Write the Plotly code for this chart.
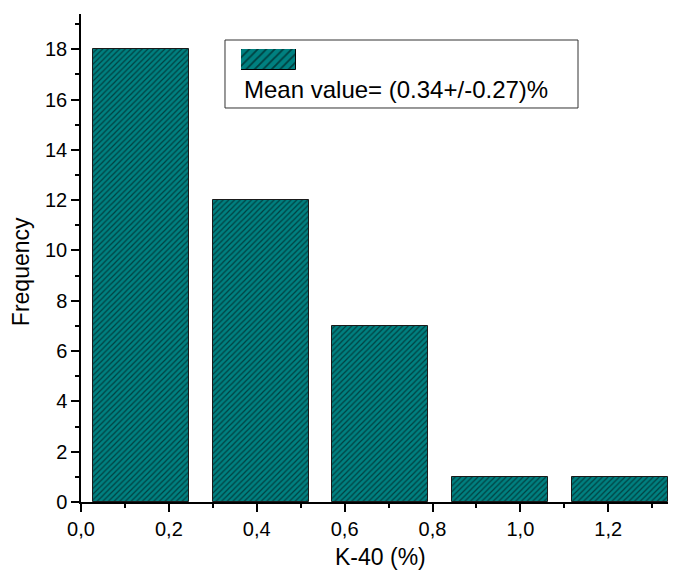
import plotly.graph_objects as go

# Data
bin_centers = [0.136, 0.409, 0.681, 0.954, 1.226]
frequencies = [18, 12, 7, 1, 1]
bar_width = 0.218
x_tick_vals = [0.0, 0.2, 0.4, 0.6, 0.8, 1.0, 1.2]
y_tick_vals = [0, 2, 4, 6, 8, 10, 12, 14, 16, 18]
legend_text = "Mean value= (0.34+/-0.27)%"
x_title = "K-40 (%)"
y_title = "Frequency"

TEAL = "#008080"
FONT = "Arial, Liberation Sans, sans-serif"

fig = go.Figure()
fig.add_trace(go.Bar(
    x=bin_centers, y=frequencies, width=bar_width,
    marker=dict(color=TEAL, line=dict(color="#1a1a1a", width=1),
                pattern=dict(shape="/", fgcolor="#000000", bgcolor=TEAL,
                             size=4, solidity=0.3, fillmode="overlay")),
    showlegend=False,
))

# legend symbol bar (drawn on its own hidden axes)
fig.add_trace(go.Bar(
    x=[0], y=[1], width=1, xaxis="x2", yaxis="y2",
    marker=dict(color=TEAL, line=dict(color="#000000", width=1),
                pattern=dict(shape="/", fgcolor="#000000", bgcolor=TEAL,
                             size=6, solidity=0.3, fillmode="overlay")),
    showlegend=False, hoverinfo="skip",
))

axis_common = dict(
    showline=True, linecolor="black", linewidth=1.5,
    ticks="outside", ticklen=8, tickwidth=1.5, tickcolor="black",
    showgrid=False, zeroline=False,
    tickfont=dict(family=FONT, size=20, color="black"),
)

fig.update_layout(
    width=673, height=572,
    margin=dict(l=81, r=5, t=14, b=70),
    plot_bgcolor="white", paper_bgcolor="white",
    separators=",.",
    font=dict(family=FONT, color="black"),
    xaxis=dict(range=[0, 1.336], tickvals=x_tick_vals, tickformat=".1f",
               minor=dict(ticks="outside", ticklen=4, tickwidth=1.5, tickcolor="black", dtick=0.1, tick0=0),
               **axis_common),
    yaxis=dict(range=[0, 19.4], tickvals=y_tick_vals,
               minor=dict(ticks="outside", ticklen=4, tickwidth=1.5, tickcolor="black", dtick=1, tick0=0),
               **axis_common),
    xaxis2=dict(domain=[0.2726, 0.3663], range=[-0.5, 0.5], visible=False, anchor="y2"),
    yaxis2=dict(domain=[0.8852, 0.9283], range=[0, 1], visible=False, anchor="x2"),
    bargap=0,
)

# axis titles
fig.add_annotation(xref="paper", yref="paper", x=0.511, y=-0.113,
                   xanchor="center", yanchor="middle", showarrow=False,
                   text=x_title, font=dict(family=FONT, size=23, color="black"))
fig.add_annotation(xref="paper", yref="paper", x=-0.1022, y=0.471,
                   xanchor="center", yanchor="middle", showarrow=False, textangle=-90,
                   text=y_title, font=dict(family=FONT, size=23, color="black"))

# legend box
fig.add_shape(type="rect", xref="paper", yref="paper",
              x0=0.2453, x1=0.8467, y0=0.8074, y1=0.9467,
              line=dict(color="#333333", width=1), fillcolor="rgba(0,0,0,0)", layer="below")
fig.add_annotation(xref="paper", yref="paper", x=0.2743, y=0.846,
                   xanchor="left", yanchor="middle", showarrow=False,
                   text=legend_text, font=dict(family=FONT, size=24, color="black"))

fig.write_html("out.html")
